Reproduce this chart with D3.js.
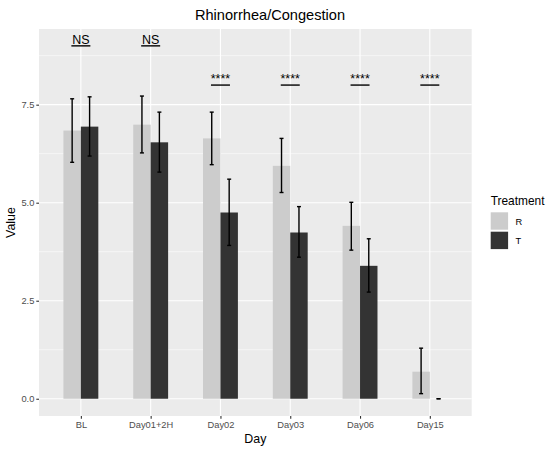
<!DOCTYPE html>
<html>
<head>
<meta charset="utf-8">
<script src="https://cdn.jsdelivr.net/npm/d3@7"></script>
<style>
  body { margin: 0; background: #fff; }
  text { font-family: "Liberation Sans", Arial, sans-serif; }
</style>
</head>
<body>
<div id="chart"></div>
<script>
// values
const days = ["BL", "Day01+2H", "Day02", "Day03", "Day06", "Day15"];
const treatments = ["R", "T"];
const meanR = [6.84, 6.99, 6.64, 5.94, 4.41, 0.69];
const lowR  = [6.03, 6.27, 5.97, 5.26, 3.79, 0.13];
const highR = [7.65, 7.72, 7.31, 6.64, 5.01, 1.29];
const meanT = [6.94, 6.54, 4.75, 4.24, 3.39, 0.00];
const lowT  = [6.19, 5.78, 3.91, 3.61, 2.72, 0.00];
const highT = [7.70, 7.31, 5.60, 4.90, 4.08, 0.00];
const sigLabels = ["NS", "NS", "****", "****", "****", "****"];
const sigLevel  = [9, 9, 8, 8, 8, 8];
const yTicks = [0, 2.5, 5, 7.5];
const yMinor = [1.25, 3.75, 6.25, 8.75];

const color = { R: "#cccccc", T: "#333333", panel: "#ebebeb", text: "#4d4d4d" };

const W = 550, H = 451;
const panel = { left: 39, right: 471.7, top: 29, bottom: 416 };

const svg = d3.select("#chart").append("svg")
  .attr("width", W).attr("height", H);

const x = d3.scalePoint()
  .domain(days)
  .range([panel.left, panel.right])
  .padding(0.6);
const step = x.step();

const y = d3.scaleLinear()
  .domain([-0.44, 9.43])
  .range([panel.bottom, panel.top]);

// panel background
svg.append("rect")
  .attr("x", panel.left).attr("y", panel.top)
  .attr("width", panel.right - panel.left)
  .attr("height", panel.bottom - panel.top)
  .attr("fill", color.panel);

// grid
svg.selectAll(".minor").data(yMinor).enter().append("line")
  .attr("x1", panel.left).attr("x2", panel.right)
  .attr("y1", d => y(d)).attr("y2", d => y(d))
  .attr("stroke", "#fff").attr("stroke-width", 0.55);
svg.selectAll(".majorY").data(yTicks).enter().append("line")
  .attr("x1", panel.left).attr("x2", panel.right)
  .attr("y1", d => y(d)).attr("y2", d => y(d))
  .attr("stroke", "#fff").attr("stroke-width", 1.1);
svg.selectAll(".majorX").data(days).enter().append("line")
  .attr("x1", d => x(d)).attr("x2", d => x(d))
  .attr("y1", panel.top).attr("y2", panel.bottom)
  .attr("stroke", "#fff").attr("stroke-width", 1.1);

// bars
const rows = [];
days.forEach((d, i) => {
  rows.push({ day: d, trt: "R", mean: meanR[i], lo: lowR[i], hi: highR[i], off: -1 });
  rows.push({ day: d, trt: "T", mean: meanT[i], lo: lowT[i], hi: highT[i], off: 1 });
});
const barW = step * 0.25;

svg.selectAll(".bar").data(rows).enter().append("rect")
  .attr("x", d => d.off < 0 ? x(d.day) - barW : x(d.day))
  .attr("y", d => y(d.mean))
  .attr("width", barW)
  .attr("height", d => y(0) - y(d.mean))
  .attr("fill", d => color[d.trt]);

// error bars
const cap = 2;
const eb = svg.append("g").attr("stroke", "#000").attr("stroke-width", 1.4);
rows.forEach(d => {
  const cx = x(d.day) + d.off * barW / 2;
  eb.append("line").attr("x1", cx).attr("x2", cx).attr("y1", y(d.lo)).attr("y2", y(d.hi));
  eb.append("line").attr("x1", cx - cap).attr("x2", cx + cap).attr("y1", y(d.lo)).attr("y2", y(d.lo));
  eb.append("line").attr("x1", cx - cap).attr("x2", cx + cap).attr("y1", y(d.hi)).attr("y2", y(d.hi));
});

// significance labels
days.forEach((d, i) => {
  svg.append("line")
    .attr("x1", x(d) - 9.5).attr("x2", x(d) + 9.5)
    .attr("y1", y(sigLevel[i])).attr("y2", y(sigLevel[i]))
    .attr("stroke", "#000").attr("stroke-width", 1.4);
  svg.append("text")
    .attr("x", x(d)).attr("y", y(sigLevel[i]) - 2)
    .attr("text-anchor", "middle")
    .attr("font-size", 12.5)
    .attr("fill", "#000")
    .text(sigLabels[i]);
});

// axes
const yAxis = d3.axisLeft(y).tickValues(yTicks).tickFormat(d3.format(".1f")).tickSize(2.7).tickPadding(2);
svg.append("g")
  .attr("transform", `translate(${panel.left},0)`)
  .call(yAxis)
  .call(g => g.select(".domain").remove())
  .call(g => g.selectAll("line").attr("stroke", "#333").attr("stroke-width", 1.1))
  .call(g => g.selectAll("text").attr("fill", color.text).attr("font-size", 9.3)
    .style("font-family", "'Liberation Sans', Arial, sans-serif"));

const xAxis = d3.axisBottom(x).tickSize(2.7).tickPadding(2.5);
svg.append("g")
  .attr("transform", `translate(0,${panel.bottom})`)
  .call(xAxis)
  .call(g => g.select(".domain").remove())
  .call(g => g.selectAll("line").attr("stroke", "#333").attr("stroke-width", 1.1))
  .call(g => g.selectAll("text").attr("fill", color.text).attr("font-size", 9.3)
    .style("font-family", "'Liberation Sans', Arial, sans-serif"));

// titles
svg.append("text")
  .attr("x", 270).attr("y", 20)
  .attr("text-anchor", "middle")
  .attr("font-size", 14.6)
  .text("Rhinorrhea/Congestion");

svg.append("text")
  .attr("x", (panel.left + panel.right) / 2).attr("y", 442.5)
  .attr("text-anchor", "middle")
  .attr("font-size", 12.4)
  .text("Day");

svg.append("text")
  .attr("transform", `translate(14.5,${(panel.top + panel.bottom) / 2}) rotate(-90)`)
  .attr("text-anchor", "middle")
  .attr("font-size", 12.4)
  .text("Value");

// legend
const legend = svg.append("g").attr("id", "legend");
legend.append("text")
  .attr("x", 490.7).attr("y", 205)
  .attr("font-size", 11.9)
  .text("Treatment");
treatments.forEach((t, i) => {
  legend.append("rect")
    .attr("x", 490.7).attr("y", 212.3 + i * 19.4)
    .attr("width", 17.4).attr("height", 17.4)
    .attr("fill", color[t]);
  legend.append("text")
    .attr("x", 515.5).attr("y", 212.3 + i * 19.4 + 12.3)
    .attr("font-size", 9.3)
    .text(t);
});
</script>
</body>
</html>
